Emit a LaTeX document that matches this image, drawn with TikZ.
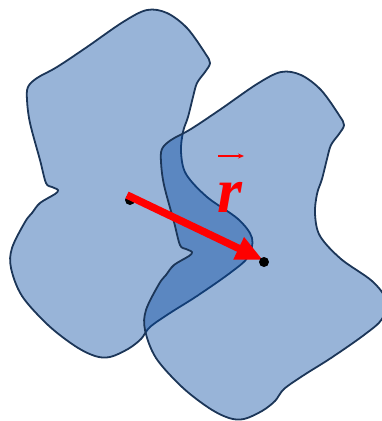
\documentclass[tikz,border=0pt]{standalone}
\usepackage{fontspec}
\setmainfont{Liberation Serif}
\usetikzlibrary{arrows.meta}
\definecolor{blobfill}{RGB}{4,72,160}
\definecolor{blobline}{RGB}{28,54,88}
\tikzset{
  blob/.style={fill=blobfill, fill opacity=0.41, draw=blobline, draw opacity=1, line width=1.8pt, line join=round},
  dotmark/.style={circle, fill=black, inner sep=0pt, minimum size=10pt},
  bigarrow/.style={draw=red, line width=7.5pt, -{Triangle[length=27pt,width=23pt]}},
  smallarrow/.style={draw=red, line width=1.2pt, -{Stealth[length=6pt,width=5pt]}},
}
\newcommand{\blobpath}{plot[smooth cycle, tension=0.55] coordinates {
 (147,10) (167,13) (187,28) (205,53) (210,63) (205,72) (197,83) (193,97) (188,117)
 (183,132) (181,152) (186,174) (207,197) (238,219) (252,238) (248,257) (230,273)
 (197,296) (170,313) (150,327) (141,339) (128,349) (110,357) (95,356) (75,346)
 (48,325) (22,296) (11,268) (12,248) (25,222) (32,213) (40,203) (55,194) (58,190)
 (52,187) (46,183) (40,160) (30,123) (27,100) (28,87) (37,78) (57,67) (87,47) (123,22)}}
\begin{document}
\begin{tikzpicture}[x=1pt, y=-1pt]
\useasboundingbox (0,0) rectangle (382,421);
\clip (0,0) rectangle (382,421);
\path[blob] \blobpath;
\begin{scope}[shift={(134,62)}]
\path[blob] \blobpath;
\end{scope}
\node[dotmark] (p1) at (130,200) {};
\coordinate (a1) at (127,195);
\coordinate (a2) at (263,260);
\draw[bigarrow] (a1) -- (a2);
\node[dotmark] (p2) at (264,262) {};
\node[text=red, font=\fontsize{64}{64}\selectfont\bfseries\itshape, inner sep=0pt] (r) at (230,197) {r};
\coordinate (s1) at (218,156);
\coordinate (s2) at (244,156);
\draw[smallarrow] (s1) -- (s2);
\end{tikzpicture}
\end{document}
